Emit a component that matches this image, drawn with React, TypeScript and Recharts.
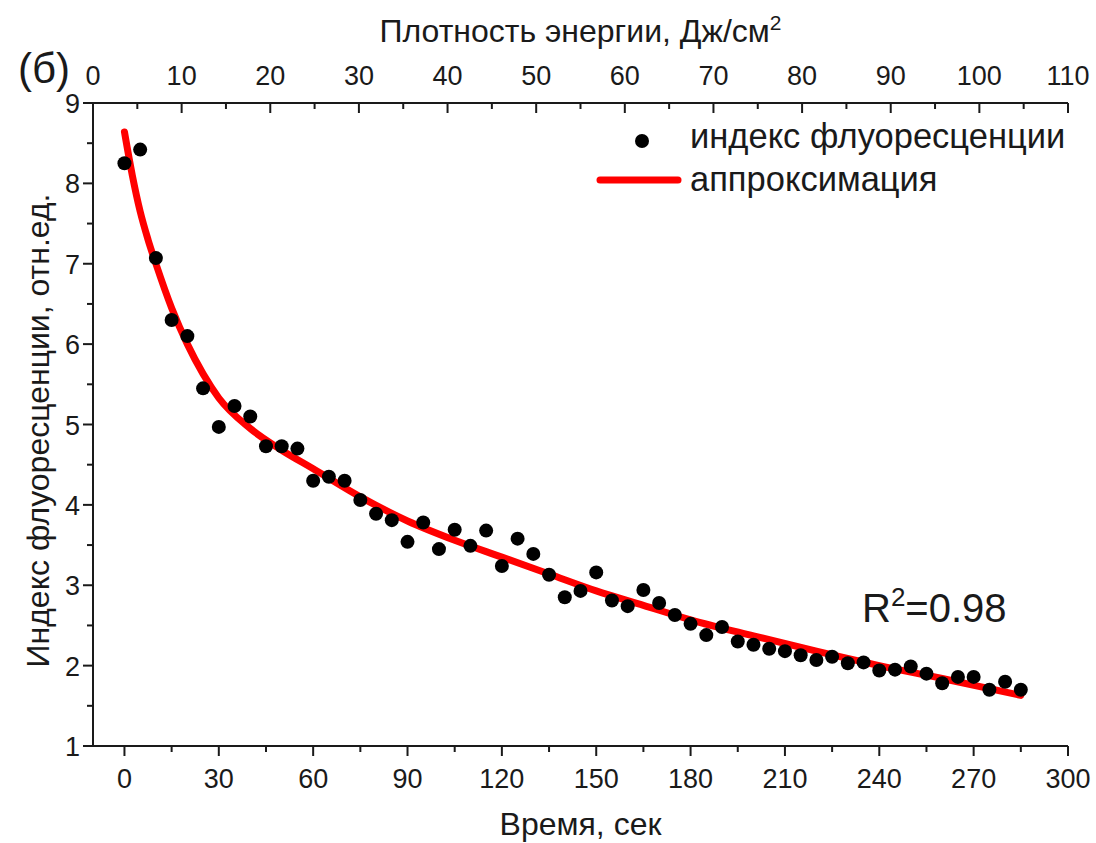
import React from "react";
import {
  ComposedChart,
  Scatter,
  Line,
  XAxis,
  YAxis,
  Legend,
  Label,
} from "recharts";

// measured points: time (s) and fluorescence index
const times = [
  0, 5, 10, 15, 20, 25, 30, 35, 40, 45, 50, 55, 60, 65, 70, 75, 80, 85, 90, 95,
  100, 105, 110, 115, 120, 125, 130, 135, 140, 145, 150, 155, 160, 165, 170,
  175, 180, 185, 190, 195, 200, 205, 210, 215, 220, 225, 230, 235, 240, 245,
  250, 255, 260, 265, 270, 275, 280, 285,
];
const index = [
  8.25, 8.42, 7.07, 6.3, 6.1, 5.45, 4.97, 5.23, 5.1, 4.73, 4.73, 4.7, 4.3,
  4.35, 4.3, 4.06, 3.89, 3.81, 3.54, 3.78, 3.45, 3.69, 3.49, 3.68, 3.24, 3.58,
  3.39, 3.13, 2.85, 2.93, 3.16, 2.81, 2.74, 2.94, 2.78, 2.63, 2.52, 2.38, 2.48,
  2.3, 2.26, 2.21, 2.18, 2.13, 2.07, 2.11, 2.03, 2.04, 1.94, 1.95, 1.99, 1.9,
  1.78, 1.86, 1.86, 1.7, 1.8, 1.7,
];

// approximation curve
const fitTimes = [
  0, 2.5, 5, 7.5, 10, 15, 20, 25, 30, 40, 50, 60, 75, 90, 105, 120, 135, 150,
  165, 180, 200, 220, 240, 260, 285,
];
const fitValues = [
  8.64, 8.1, 7.65, 7.3, 7.0, 6.45, 6.0, 5.63, 5.33, 4.95, 4.68, 4.45, 4.1, 3.8,
  3.56, 3.35, 3.14, 2.93, 2.75, 2.57, 2.37, 2.18, 2.0, 1.84, 1.63,
];

const timeTicks = [
  0, 15, 30, 45, 60, 75, 90, 105, 120, 135, 150, 165, 180, 195, 210, 225, 240,
  255, 270, 285, 300,
];
const energyTicks = [
  0, 5, 10, 15, 20, 25, 30, 35, 40, 45, 50, 55, 60, 65, 70, 75, 80, 85, 90, 95,
  100, 105, 110,
];
const indexTicks = [
  1, 1.5, 2, 2.5, 3, 3.5, 4, 4.5, 5, 5.5, 6, 6.5, 7, 7.5, 8, 8.5, 9,
];

const points = times.map((t, i) => ({ t, v: index[i] }));
const fit = fitTimes.map((t, i) => ({ t, v: fitValues[i] }));
// the top (energy) axis only needs its range known; nothing is drawn from this
const energyRange = energyTicks.map((e) => ({ e }));

const FONT = "'Liberation Sans', Arial, sans-serif";
const INK = "#1a1a1a";

const BottomTick = (props: any) => {
  const { x, y, payload } = props;
  const major = payload.value % 30 === 0;
  return (
    <g>
      <line x1={x} y1={y} x2={x} y2={y + (major ? 10 : 6)} stroke={INK} strokeWidth={2} />
      {major && (
        <text x={x} y={y + 42} textAnchor="middle" fontSize={27} fontFamily={FONT} fill={INK}>
          {payload.value}
        </text>
      )}
    </g>
  );
};

const TopTick = (props: any) => {
  const { x, y, payload } = props;
  const major = payload.value % 10 === 0;
  return (
    <g>
      <line x1={x} y1={y} x2={x} y2={y + (major ? 10 : 6)} stroke={INK} strokeWidth={2} />
      {major && (
        <text x={x} y={y - 18} textAnchor="middle" fontSize={27} fontFamily={FONT} fill={INK}>
          {payload.value}
        </text>
      )}
    </g>
  );
};

const LeftTick = (props: any) => {
  const { x, y, payload } = props;
  const major = Number.isInteger(payload.value);
  return (
    <g>
      <line x1={x - (major ? 10 : 6)} y1={y} x2={x} y2={y} stroke={INK} strokeWidth={2} />
      {major && (
        <text x={x - 13} y={y + 10} textAnchor="end" fontSize={27} fontFamily={FONT} fill={INK}>
          {payload.value}
        </text>
      )}
    </g>
  );
};

const Dot = (props: any) => <circle cx={props.cx} cy={props.cy} r={7} fill="#000" />;
const Nothing = () => <g />;

const LegendBox = () => (
  <svg width={500} height={100}>
    <circle cx={62} cy={31} r={7} fill="#000" />
    <text x={110} y={38} fontSize={34.5} fontFamily={FONT} fill={INK}>
      индекс флуоресценции
    </text>
    <line x1={20} y1={70} x2={98} y2={70} stroke="#ff0000" strokeWidth={7} strokeLinecap="round" />
    <text x={110} y={81} fontSize={34.5} fontFamily={FONT} fill={INK}>
      аппроксимация
    </text>
  </svg>
);

export default function App() {
  return (
    <div style={{ position: "absolute", left: 0, top: 0, width: 1096, height: 843, background: "#fff" }}>
      <ComposedChart
        width={1096}
        height={843}
        margin={{ top: 0, right: 28, bottom: 0, left: 0 }}
      >
        <XAxis
          xAxisId="time"
          type="number"
          dataKey="t"
          orientation="bottom"
          domain={[-10, 300]}
          allowDataOverflow
          ticks={timeTicks}
          interval={0}
          height={97}
          tickSize={0}
          tickMargin={0}
          tickLine={false}
          tick={<BottomTick />}
          axisLine={{ stroke: INK, strokeWidth: 2 }}
        >
          <Label
            content={(p: any) => {
              const vb = p.viewBox;
              return (
                <text x={vb.x + vb.width / 2} y={vb.y + 89} textAnchor="middle" fontSize={32} fontFamily={FONT} fill={INK}>
                  Время, сек
                </text>
              );
            }}
          />
        </XAxis>
        <XAxis
          xAxisId="energy"
          type="number"
          dataKey="e"
          orientation="top"
          domain={[0, 110]}
          allowDataOverflow
          ticks={energyTicks}
          interval={0}
          height={103}
          tickSize={0}
          tickMargin={0}
          tickLine={false}
          tick={<TopTick />}
          axisLine={{ stroke: INK, strokeWidth: 2 }}
        >
          <Label
            content={(p: any) => {
              const vb = p.viewBox;
              return (
                <text x={vb.x + vb.width / 2} y={vb.y + vb.height - 61} textAnchor="middle" fontSize={32} fontFamily={FONT} fill={INK}>
                  Плотность энергии, Дж/см
                  <tspan fontSize={21} dy={-12}>2</tspan>
                </text>
              );
            }}
          />
        </XAxis>
        <YAxis
          yAxisId="idx"
          type="number"
          domain={[1, 9]}
          allowDataOverflow
          ticks={indexTicks}
          interval={0}
          width={93}
          tickSize={0}
          tickMargin={0}
          tickLine={false}
          tick={<LeftTick />}
          axisLine={{ stroke: INK, strokeWidth: 2 }}
        >
          <Label
            content={(p: any) => {
              const vb = p.viewBox;
              const cx = 38;
              const cy = vb.y + vb.height / 2 + 6;
              return (
                <text
                  x={cx}
                  y={cy}
                  transform={`rotate(-90, ${cx}, ${cy})`}
                  textAnchor="middle"
                  dominantBaseline="central"
                  fontSize={32}
                  fontFamily={FONT}
                  fill={INK}
                >
                  Индекс флуоресценции, отн.ед.
                </text>
              );
            }}
          />
        </YAxis>
        <YAxis
          yAxisId="frame"
          orientation="right"
          type="number"
          domain={[1, 9]}
          allowDataOverflow
          width={0}
          tick={false}
          tickLine={false}
          axisLine={{ stroke: INK, strokeWidth: 2 }}
        />
        <Legend
          verticalAlign="middle"
          align="center"
          layout="horizontal"
          wrapperStyle={{ left: 580, top: 110, width: 500, height: 100 }}
          content={() => <LegendBox />}
        />
        <Scatter
          xAxisId="energy"
          yAxisId="idx"
          data={energyRange}
          dataKey="v"
          shape={<Nothing />}
          legendType="none"
          isAnimationActive={false}
        />
        <Line
          xAxisId="time"
          yAxisId="idx"
          data={fit}
          dataKey="v"
          type="monotone"
          stroke="#ff0000"
          strokeWidth={7}
          strokeLinecap="round"
          dot={false}
          activeDot={false}
          isAnimationActive={false}
        />
        <Scatter
          xAxisId="time"
          yAxisId="idx"
          data={points}
          dataKey="v"
          shape={<Dot />}
          isAnimationActive={false}
        />
      </ComposedChart>
      <div style={{ position: "absolute", left: 18, top: 48, fontSize: 42, fontFamily: FONT, color: INK, lineHeight: 1 }}>
        (б)
      </div>
      <div style={{ position: "absolute", left: 862, top: 588, fontSize: 40, fontFamily: FONT, color: INK, lineHeight: 1, whiteSpace: "nowrap" }}>
        R<sup style={{ fontSize: 26, verticalAlign: "top", position: "relative", top: -4 }}>2</sup>=0.98
      </div>
    </div>
  );
}
